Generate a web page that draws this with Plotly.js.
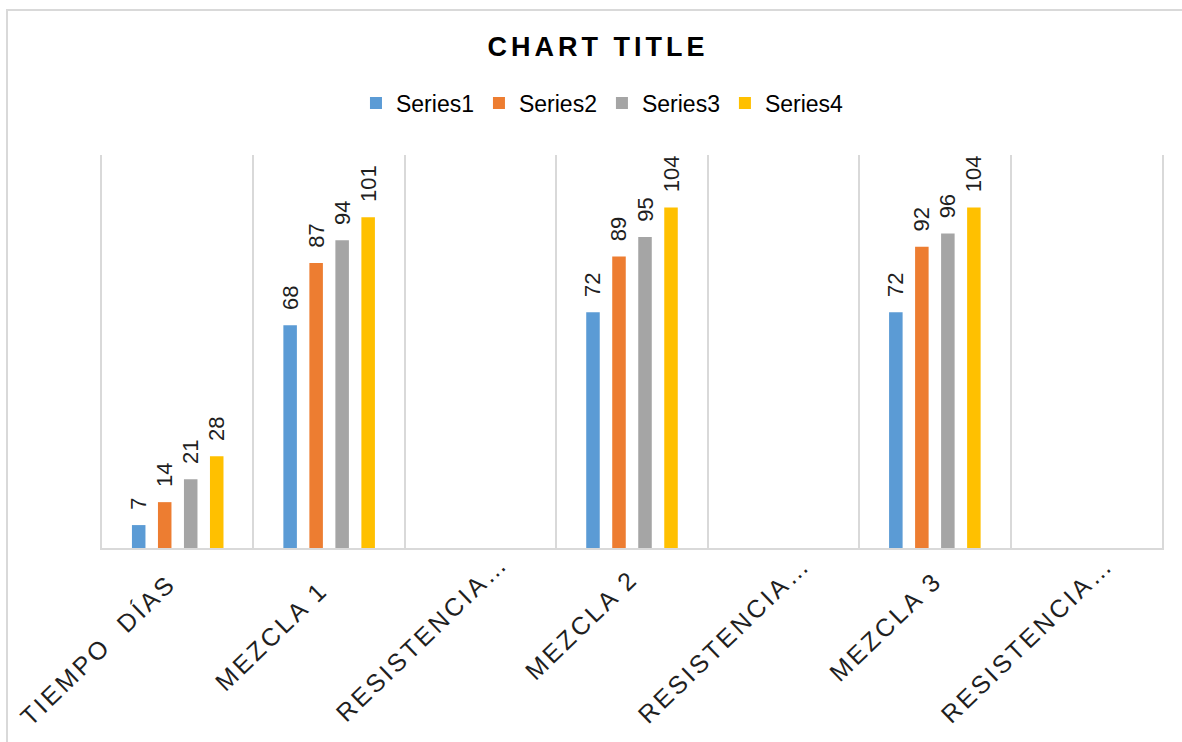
<!DOCTYPE html>
<html>
<head>
<meta charset="utf-8">
<script src="https://cdn.plot.ly/plotly-3.0.1.min.js"></script>
<style>
  html, body { margin: 0; padding: 0; background: #fff; }
  #wrap { position: relative; width: 1182px; height: 742px; overflow: hidden; }
  #frame { position: absolute; left: 6px; top: 9px; width: 1300px; height: 900px; border: 2px solid #d9d9d9; box-sizing: border-box; pointer-events: none; }
  #chart { position: absolute; left: 0; top: 0; width: 1182px; height: 742px; }
  .annotation-text { letter-spacing: 3px; }
  .gtitle { letter-spacing: 4px; }
</style>
</head>
<body>
<div id="wrap">
  <div id="frame"></div>
  <div id="chart"></div>
</div>
<script>
const categories = ["TIEMPO \u00a0DÍAS", "MEZCLA 1", "RESISTENCIA…", "MEZCLA 2", "RESISTENCIA…", "MEZCLA 3", "RESISTENCIA…"];
const seriesNames = ["Series1", "Series2", "Series3", "Series4"];
const series1 = [7, 68, null, 72, null, 72, null];
const series2 = [14, 87, null, 89, null, 92, null];
const series3 = [21, 94, null, 95, null, 96, null];
const series4 = [28, 101, null, 104, null, 104, null];
const colors = ["#5B9BD5", "#ED7D31", "#A5A5A5", "#FFC000"];

// layout: pixel offset of each rotated category label's centre from (category centre, axis line)
const labelOffsetX = [-80, -58, -59, -51, -59, -49, -59];
const labelOffsetY = [102, 88, 90, 77, 91, 78, 91];

const xpos = categories.map((_, i) => i);
const allSeries = [series1, series2, series3, series4];
const FONT = "Liberation Sans, Arial, sans-serif";
const textFont = { family: FONT, size: 22, color: "#1f1f1f" };

const traces = allSeries.map((vals, k) => ({
  type: "bar",
  name: seriesNames[k],
  x: xpos,
  y: vals,
  marker: { color: colors[k] },
  text: vals.map(v => v === null ? "" : "\u00a0\u00a0" + v),
  textposition: "outside",
  textangle: -90,
  constraintext: "none",
  cliponaxis: false,
  textfont: textFont,
  hoverinfo: "x+y+name"
}));

const labelAnnotations = categories.map((c, i) => ({
  x: i, y: 0, xref: "x", yref: "y",
  text: c, showarrow: false, textangle: -44,
  xanchor: "center", yanchor: "middle",
  xshift: labelOffsetX[i],
  yshift: -labelOffsetY[i],
  font: { family: FONT, size: 25, color: "#1f1f1f" }
}));

const layout = {
  width: 1182,
  height: 742,
  paper_bgcolor: "rgba(0,0,0,0)",
  plot_bgcolor: "rgba(0,0,0,0)",
  margin: { l: 102, r: 20, t: 155, b: 194 },
  barmode: "group",
  bargap: 0.313,
  bargroupgap: 0.48,
  title: {
    text: "<b>CHART TITLE</b>",
    font: { family: FONT, size: 27, color: "#000" },
    x: 0.506, xanchor: "center",
    yref: "container", y: 1 - 47 / 742, yanchor: "middle"
  },
  legend: {
    orientation: "h",
    x: 0.2396, xanchor: "left",
    yref: "container", y: 1 - 103 / 742, yanchor: "middle",
    font: { family: FONT, size: 23, color: "#000" },
    itemwidth: 30,
    traceorder: "normal"
  },
  annotations: labelAnnotations,
  xaxis: {
    type: "linear",
    range: [-0.5, 6.5],
    tickmode: "array",
    tickvals: xpos,
    showticklabels: false,
    ticks: "",
    showgrid: false,
    zeroline: false,
    showline: true,
    linecolor: "#d9d9d9",
    linewidth: 2,
    minor: { tick0: 0.5, dtick: 1, showgrid: true, gridcolor: "#d9d9d9", gridwidth: 2, ticks: "" },
    fixedrange: true
  },
  yaxis: {
    range: [0, 120],
    showticklabels: false,
    showgrid: false,
    zeroline: false,
    ticks: "",
    showline: true,
    mirror: true,
    linecolor: "#d9d9d9",
    linewidth: 2,
    fixedrange: true
  },
  showlegend: true
};

Plotly.newPlot("chart", traces, layout, { displayModeBar: false, staticPlot: true });
</script>
</body>
</html>
